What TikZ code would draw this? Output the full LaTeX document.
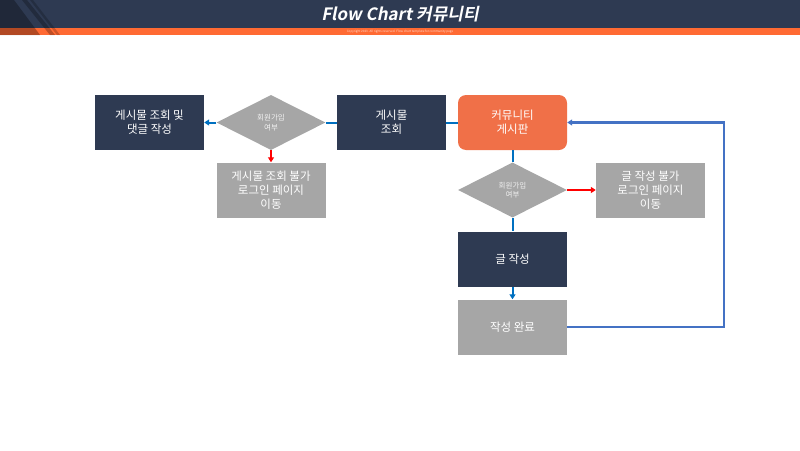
\documentclass[tikz,border=0pt]{standalone}
\usepackage{fontspec}
\usetikzlibrary{arrows.meta,shapes.geometric}
\newfontfamily\kr{Noto Sans CJK KR}
\newfontfamily\krtitle[FakeSlant=0.2]{Noto Sans CJK KR Bold}
\definecolor{navy}{HTML}{2E3A52}
\definecolor{orng}{HTML}{FF6A33}
\definecolor{boxorange}{HTML}{F07048}
\definecolor{gry}{HTML}{A6A6A6}
\definecolor{lnblue}{HTML}{0070C0}
\definecolor{loopblue}{HTML}{4472C4}
\definecolor{arrred}{HTML}{FF0000}
\tikzset{
  box/.style={rectangle, minimum width=109pt, minimum height=55pt, inner sep=0pt, align=center, text=white, font=\kr\fontsize{11.5}{14}\selectfont},
  navybox/.style={box, fill=navy},
  graybox/.style={box, fill=gry},
  orangebox/.style={box, fill=boxorange, rounded corners=8pt},
  dec/.style={diamond, aspect=2, fill=gry, inner sep=0pt, minimum width=109pt, minimum height=55pt, align=center, text=white!85!gry, font=\kr\fontsize{7.5}{9.5}\selectfont},
  blueln/.style={draw=lnblue, line width=2pt},
  bluearr/.style={blueln, -{Triangle[length=5pt,width=6pt]}},
  redarr/.style={draw=arrred, line width=2pt, -{Triangle[length=5pt,width=6pt]}},
  looparr/.style={draw=loopblue, line width=2.2pt, -{Triangle[length=5pt,width=6pt]}}
}
\begin{document}
\begin{tikzpicture}[x=1pt,y=-1pt]
\useasboundingbox (0,0) rectangle (800,450);
% header
\fill[navy] (0,0) rectangle (800,28);
\fill[orng] (0,28) rectangle (800,35);
\fill[black,opacity=0.3] (0,0) -- (14,0) -- (40,35) -- (0,35) -- cycle;
\fill[black,opacity=0.25] (22,0) -- (27,0) -- (55,35) -- (50,35) -- cycle;
\fill[black,opacity=0.2] (30,0) -- (33,0) -- (60,35) -- (57,35) -- cycle;
\node[text=white, font=\krtitle\fontsize{17}{20}\selectfont] (title) at (400,14) {Flow Chart 커뮤니티};
\node[text=white!75!orng, font=\kr\fontsize{3}{3.5}\selectfont] (sub) at (400,31.5) {Copyright 2023. All rights reserved. Flow chart template for community page};
% nodes
\node[navybox] (a) at (149.5,122.5) {게시물 조회 및\\댓글 작성};
\node[dec] (d1) at (271,122.5) {회원가입\\여부};
\node[graybox] (b) at (271,190) {게시물 조회 불가\\로그인 페이지\\이동};
\node[navybox] (c) at (391.5,122.5) {게시물\\조회};
\node[orangebox] (e) at (512.5,122.5) {커뮤니티\\게시판};
\node[dec] (d2) at (512.5,190) {회원가입\\여부};
\node[graybox] (f) at (650.5,190) {글 작성 불가\\로그인 페이지\\이동};
\node[navybox] (g) at (512.5,259) {글 작성};
\node[graybox] (h) at (512.5,327) {작성 완료};
\coordinate (lb) at (724,327);
\coordinate (lt) at (724,122.5);
% connectors
\draw[blueln] (e.west) -- (c.east);
\draw[blueln] (c.west) -- (d1.east);
\draw[bluearr] (d1.west) -- (a.east);
\draw[redarr] (d1.south) -- (b.north);
\draw[blueln] (e.south) -- (d2.north);
\draw[redarr] (d2.east) -- (f.west);
\draw[blueln] (d2.south) -- (g.north);
\draw[bluearr] (g.south) -- (h.north);
\draw[looparr] (h.east) -- (lb) -- (lt) -- (e.east);
\end{tikzpicture}
\end{document}
